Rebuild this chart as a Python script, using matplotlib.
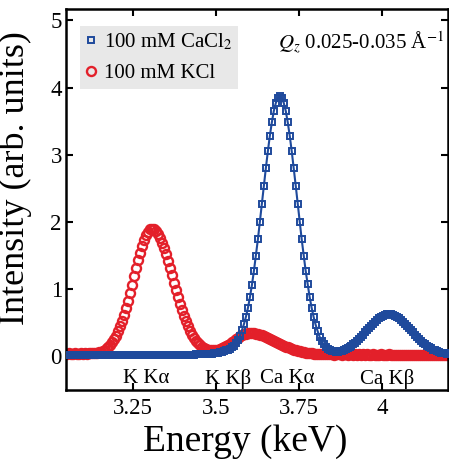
import matplotlib
matplotlib.use('Agg')
import matplotlib.pyplot as plt

plt.rcParams['font.family'] = ['Liberation Serif', 'DejaVu Serif']
plt.rcParams['mathtext.fontset'] = 'stix'

#  Energy scan (keV)
energy_kev = [
    3.050, 3.056, 3.062, 3.068, 3.074, 3.080, 3.086, 3.092, 3.098, 3.104,
    3.110, 3.116, 3.122, 3.128, 3.134, 3.140, 3.146, 3.152, 3.158, 3.164,
    3.170, 3.176, 3.182, 3.188, 3.194, 3.200, 3.206, 3.212, 3.218, 3.224,
    3.230, 3.236, 3.242, 3.248, 3.254, 3.260, 3.266, 3.272, 3.278, 3.284,
    3.290, 3.296, 3.302, 3.308, 3.314, 3.320, 3.326, 3.332, 3.338, 3.344,
    3.350, 3.356, 3.362, 3.368, 3.374, 3.380, 3.386, 3.392, 3.398, 3.404,
    3.410, 3.416, 3.422, 3.428, 3.434, 3.440, 3.446, 3.452, 3.458, 3.464,
    3.470, 3.476, 3.482, 3.488, 3.494, 3.500, 3.506, 3.512, 3.518, 3.524,
    3.530, 3.536, 3.542, 3.548, 3.554, 3.560, 3.566, 3.572, 3.578, 3.584,
    3.590, 3.596, 3.602, 3.608, 3.614, 3.620, 3.626, 3.632, 3.638, 3.644,
    3.650, 3.656, 3.662, 3.668, 3.674, 3.680, 3.686, 3.692, 3.698, 3.704,
    3.710, 3.716, 3.722, 3.728, 3.734, 3.740, 3.746, 3.752, 3.758, 3.764,
    3.770, 3.776, 3.782, 3.788, 3.794, 3.800, 3.806, 3.812, 3.818, 3.824,
    3.830, 3.836, 3.842, 3.848, 3.854, 3.860, 3.866, 3.872, 3.878, 3.884,
    3.890, 3.896, 3.902, 3.908, 3.914, 3.920, 3.926, 3.932, 3.938, 3.944,
    3.950, 3.956, 3.962, 3.968, 3.974, 3.980, 3.986, 3.992, 3.998, 4.004,
    4.010, 4.016, 4.022, 4.028, 4.034, 4.040, 4.046, 4.052, 4.058, 4.064,
    4.070, 4.076, 4.082, 4.088, 4.094, 4.100, 4.106, 4.112, 4.118, 4.124,
    4.130, 4.136, 4.142, 4.148, 4.154, 4.160, 4.166, 4.172, 4.178, 4.184,
    4.190, 4.196]

#  100 mM CaCl2 intensity (arb. units)
cacl2 = [
    0.02, 0.02, 0.015, 0.02, 0.02, 0.025, 0.02, 0.02, 0.015, 0.02,
    0.02, 0.02, 0.025, 0.02, 0.015, 0.02, 0.02, 0.02, 0.025, 0.02,
    0.02, 0.015, 0.02, 0.02, 0.02, 0.025, 0.02, 0.02, 0.015, 0.02,
    0.02, 0.02, 0.025, 0.02, 0.02, 0.015, 0.02, 0.02, 0.02, 0.025,
    0.02, 0.02, 0.015, 0.02, 0.02, 0.02, 0.025, 0.02, 0.02, 0.015,
    0.02, 0.02, 0.02, 0.025, 0.02, 0.02, 0.015, 0.02, 0.02, 0.02,
    0.02, 0.02, 0.025, 0.025, 0.025, 0.03, 0.03, 0.03, 0.035, 0.035,
    0.035, 0.04, 0.04, 0.04, 0.045, 0.05, 0.055, 0.06, 0.07, 0.08,
    0.09, 0.10, 0.115, 0.135, 0.16, 0.20, 0.25, 0.31, 0.39, 0.48,
    0.59, 0.72, 0.88, 1.06, 1.27, 1.50, 1.74, 2.00, 2.27, 2.54,
    2.80, 3.05, 3.28, 3.48, 3.65, 3.77, 3.84, 3.87, 3.84, 3.77,
    3.65, 3.48, 3.28, 3.05, 2.80, 2.54, 2.27, 2.00, 1.74, 1.50,
    1.27, 1.07, 0.88, 0.72, 0.585, 0.47, 0.375, 0.292, 0.23, 0.18,
    0.143, 0.115, 0.095, 0.082, 0.074, 0.071, 0.071, 0.076, 0.083, 0.093,
    0.106, 0.119, 0.137, 0.157, 0.180, 0.205, 0.232, 0.261, 0.291, 0.323,
    0.356, 0.390, 0.424, 0.457, 0.488, 0.518, 0.546, 0.570, 0.591, 0.608,
    0.620, 0.627, 0.630, 0.627, 0.620, 0.608, 0.591, 0.570, 0.546, 0.518,
    0.488, 0.457, 0.424, 0.390, 0.356, 0.323, 0.291, 0.261, 0.232, 0.205,
    0.180, 0.157, 0.137, 0.119, 0.103, 0.089, 0.076, 0.066, 0.057, 0.050,
    0.044, 0.039]

#  100 mM KCl intensity (arb. units)
kcl = [
    0.04, 0.05, 0.04, 0.04, 0.05, 0.04, 0.04, 0.05, 0.04, 0.05,
    0.04, 0.05, 0.046, 0.05, 0.052, 0.058, 0.064, 0.073, 0.085, 0.10,
    0.12, 0.144, 0.175, 0.212, 0.257, 0.311, 0.373, 0.446, 0.528, 0.619,
    0.720, 0.830, 0.945, 1.066, 1.189, 1.311, 1.430, 1.541, 1.643, 1.731,
    1.803, 1.856, 1.889, 1.900, 1.891, 1.865, 1.823, 1.766, 1.694, 1.612,
    1.519, 1.418, 1.313, 1.205, 1.096, 0.988, 0.883, 0.783, 0.688, 0.601,
    0.521, 0.448, 0.383, 0.326, 0.276, 0.234, 0.198, 0.169, 0.145, 0.125,
    0.111, 0.100, 0.093, 0.090, 0.091, 0.094, 0.100, 0.109, 0.122, 0.136,
    0.153, 0.172, 0.191, 0.213, 0.236, 0.258, 0.279, 0.299, 0.316, 0.331,
    0.341, 0.348, 0.350, 0.349, 0.346, 0.341, 0.335, 0.326, 0.316, 0.305,
    0.292, 0.278, 0.264, 0.249, 0.234, 0.219, 0.203, 0.188, 0.173, 0.159,
    0.145, 0.133, 0.121, 0.110, 0.100, 0.091, 0.082, 0.075, 0.068, 0.062,
    0.056, 0.052, 0.047, 0.044, 0.042, 0.039, 0.038, 0.036, 0.035, 0.034,
    0.033, 0.03, 0.035, 0.03, 0.025, 0.03, 0.035, 0.03, 0.025, 0.03,
    0.03, 0.025, 0.03, 0.035, 0.025, 0.03, 0.025, 0.03, 0.02, 0.03,
    0.025, 0.03, 0.02, 0.025, 0.03, 0.025, 0.02, 0.025, 0.03, 0.02,
    0.025, 0.02, 0.03, 0.025, 0.02, 0.025, 0.02, 0.025, 0.015, 0.025,
    0.02, 0.025, 0.02, 0.015, 0.025, 0.02, 0.02, 0.025, 0.015, 0.02,
    0.02, 0.025, 0.015, 0.02, 0.02, 0.015, 0.025, 0.02, 0.015, 0.02,
    0.02, 0.02]

#  Emission line labels
line_labels = ['K K\u03b1', 'K K\u03b2', 'Ca K\u03b1', 'Ca K\u03b2']
line_label_x = [3.29, 3.535, 3.715, 4.015]

x_ticks = [3.25, 3.5, 3.75, 4]
x_tick_labels = ['3.25', '3.5', '3.75', '4']
y_ticks = [0, 1, 2, 3, 4, 5]

blue = '#1f4a9c'
red = '#e3202a'

fig = plt.figure(figsize=(4.49, 4.66), dpi=100)
ax = fig.add_axes([0.147, 0.163, 0.851, 0.818])

#  KCl first so the CaCl2 curve sits on top
ax.plot(energy_kev, kcl, 'o', color=red, mfc='none', mec=red, ms=6.5, mew=1.7,
        label='100 mM KCl', zorder=2)
ax.plot(energy_kev, cacl2, '-s', color=blue, mfc='none', mec=blue, ms=4.8, mew=1.4,
        lw=1.5, label='100 mM CaCl$_2$', zorder=3)

ax.set_xlim(3.048, 4.199)
ax.set_ylim(-0.5, 5.17)
ax.set_xticks(x_ticks)
ax.set_xticklabels(x_tick_labels)
ax.set_yticks(y_ticks)
ax.tick_params(direction='in', top=True, right=True, length=5, width=1.5,
               labelsize=16.5)
ax.tick_params(axis='x', pad=6)
ax.tick_params(axis='y', pad=3)
for s in ax.spines.values():
    s.set_linewidth(1.8)

ax.set_xlabel('Energy (keV)', fontsize=27)
ax.set_ylabel('Intensity (arb. units)', fontsize=26)
ax.xaxis.set_label_coords(0.47, -0.09)
ax.yaxis.set_label_coords(-0.088, 0.555)

#  Legend with grey box
handles, labels = ax.get_legend_handles_labels()
leg = ax.legend(handles[::-1], labels[::-1], loc='upper left', bbox_to_anchor=(0.025, 0.965),
                fontsize=15, frameon=True, handlelength=0.6, handletextpad=0.3,
                borderpad=0.25, labelspacing=0.55, borderaxespad=0.2, fancybox=False)
leg.get_frame().set_facecolor('#e8e8e8')
leg.get_frame().set_edgecolor('none')
leg.get_frame().set_alpha(1)
for h in leg.legend_handles:
    h.set_linestyle('none')

ax.text(0.99, 0.91, '$Q_z$ 0.025-0.035 \u00c5$^{-1}$', transform=ax.transAxes,
        ha='right', va='center', fontsize=15)

for lbl, xe in zip(line_labels, line_label_x):
    ax.text(xe, -0.33, lbl, ha='center', va='center', fontsize=15)

fig.savefig('out.png', dpi=100)
